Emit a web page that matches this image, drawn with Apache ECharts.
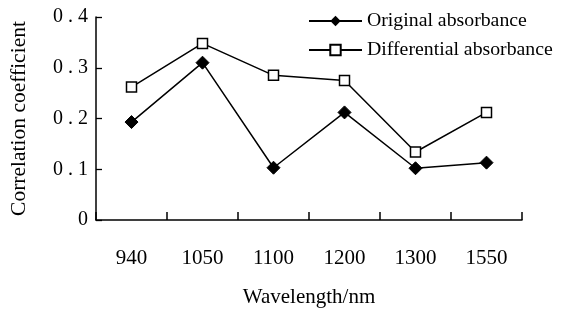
<!DOCTYPE html>
<html><head><meta charset="utf-8">
<script src="https://cdn.jsdelivr.net/npm/echarts@6/dist/echarts.min.js"></script>
<style>html,body{margin:0;padding:0;background:#fff}#c{width:571px;height:313px}</style>
</head><body><div id="c"></div>
<script>
var categories = ['940','1050','1100','1200','1300','1550'];
var originalAbs = [0.193, 0.310, 0.103, 0.212, 0.102, 0.113];
var differentialAbs = [0.262, 0.348, 0.285, 0.275, 0.134, 0.212];
var seriesNames = ['Original absorbance','Differential absorbance'];
var FONT = '"Liberation Serif","Times New Roman",serif';
var chart = echarts.init(document.getElementById('c'));
chart.setOption({
  animation:false,
  backgroundColor:'#fff',
  grid:{left:95,right:49,top:17,bottom:92,containLabel:false},
  legend:{
    orient:'vertical', left:303, top:6, itemGap:9,
    itemWidth:53, itemHeight:13,
    textStyle:{fontFamily:FONT,fontSize:19.8,color:'#000',padding:[0,0,0,0]},
    data:seriesNames
  },
  xAxis:{
    type:'category', data:categories, boundaryGap:true,
    axisLine:{show:true,lineStyle:{color:'#000',width:1.5}},
    axisTick:{show:true,interval:0,inside:true,length:8,alignWithLabel:false,lineStyle:{color:'#000',width:1.5}},
    axisLabel:{color:'#000',fontFamily:FONT,fontSize:21,margin:28},
    name:'Wavelength/nm', nameLocation:'middle', nameGap:67,
    nameTextStyle:{color:'#000',fontFamily:FONT,fontSize:21},
    splitLine:{show:false}
  },
  yAxis:{
    type:'value', min:0, max:0.4, interval:0.1,
    axisLine:{show:true,lineStyle:{color:'#000',width:1.5}},
    axisTick:{show:true,inside:true,length:6,lineStyle:{color:'#000',width:1.3}},
    axisLabel:{color:'#000',fontFamily:FONT,fontSize:20,margin:8,
      formatter:function(v){ if(v===0) return '0'; return v.toFixed(1).split('').join(' '); }},
    splitLine:{show:false},
    name:'Correlation coefficient', nameLocation:'middle', nameGap:66,
    nameTextStyle:{color:'#000',fontFamily:FONT,fontSize:21.5}
  },
  series:[
    {name:seriesNames[0], type:'line', data:originalAbs, symbol:'diamond', symbolSize:13,
     lineStyle:{color:'#000',width:1.5}, itemStyle:{color:'#000',borderColor:'#000'}},
    {name:seriesNames[1], type:'line', data:differentialAbs, symbol:'rect', symbolSize:10,
     lineStyle:{color:'#000',width:1.5}, itemStyle:{color:'#fff',borderColor:'#000',borderWidth:1.5}}
  ]
});
</script></body></html>
